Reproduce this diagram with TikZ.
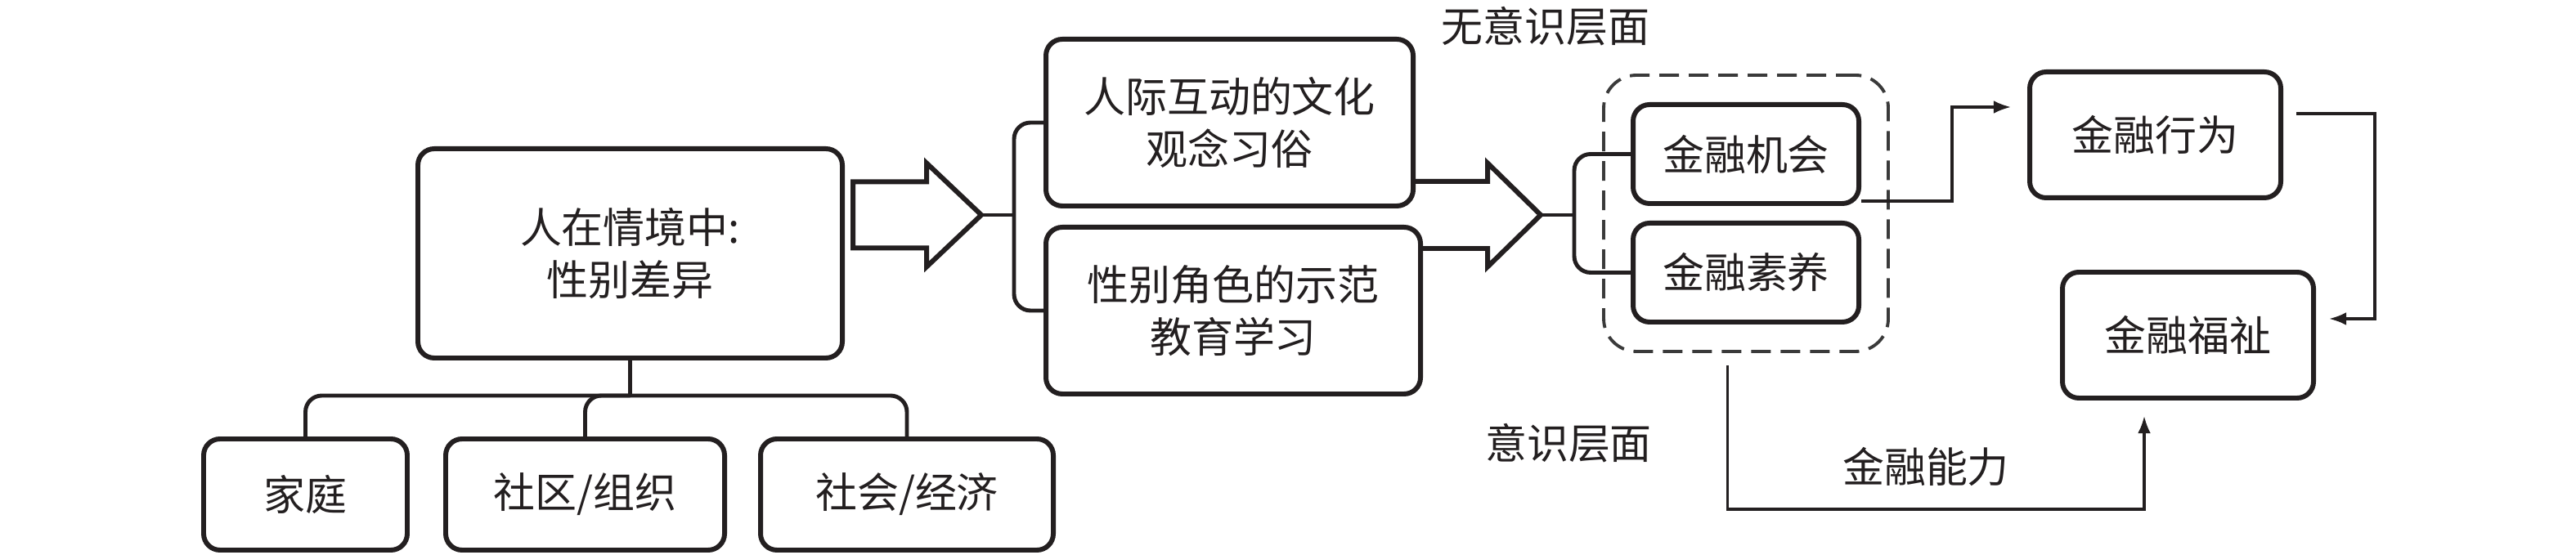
\documentclass[tikz,border=0pt]{standalone}
\usepackage{fontspec}
\newfontfamily\cjk{Noto Sans CJK SC}
\usepackage{tikz}
\usetikzlibrary{positioning,arrows.meta,fit}
\definecolor{ink}{HTML}{231F20}
\definecolor{dashc}{HTML}{3A3A3A}

\begin{document}
\begin{tikzpicture}[>=Latex,
    every node/.style={font=\cjk\fontsize{14.5}{18}\selectfont, text=ink},
    box/.style={draw=ink, line width=1.7pt, rounded corners=0.2cm, align=center, inner sep=0pt},
    link/.style={draw=ink, line width=1.4pt},
    hollow/.style={draw=ink, line width=1.7pt, miter limit=10},
    flow/.style={draw=ink, line width=0.9pt, -{Latex[length=6pt,width=4.5pt]}},
    grp/.style={draw=dashc, line width=1.1pt, dash pattern=on 0.24cm off 0.12cm, rounded corners=0.4cm}]
  \useasboundingbox (0,0) rectangle (31.5,6.79);
  % person in situation and its three levels
  \node[box, minimum width=5.19cm, minimum height=2.56cm] (ctx) at (7.705,3.69) {人在情境中:\\性别差异};
  \node[box, minimum width=2.49cm, minimum height=1.36cm] (fam) at (3.735,0.74) {家庭};
  \node[box, minimum width=3.41cm, minimum height=1.36cm] (comm) at (7.155,0.74) {社区/组织};
  \node[box, minimum width=3.58cm, minimum height=1.36cm] (soc) at (11.09,0.74) {社会/经济};
  \draw[link] (ctx.south) -- ++(0,-0.43) coordinate (hub);
  \draw[link, rounded corners=0.2cm] (fam.north) |- (hub) -| (soc.north);
  \draw[link, rounded corners=0.2cm] (comm.north) |- (hub);
  % first block arrow
  \coordinate (a1) at (10.43,4.16);
  \draw[hollow] (a1) ++(0,0.405) -- ++(0.9,0) -- ++(0,0.23) -- ++(0.67,-0.635) coordinate (t1)
    -- ++(-0.67,-0.635) -- ++(0,0.23) -- ++(-0.9,0) -- cycle;
  % two channels
  \node[box, minimum width=4.49cm, minimum height=2.04cm] (cult) at (15.035,5.29) {人际互动的文化\\观念习俗};
  \node[box, minimum width=4.58cm, minimum height=2.04cm] (role) at (15.08,2.99) {性别角色的示范\\教育学习};
  \coordinate (b1) at (12.40,4.16);
  \draw[link] (t1) -- (b1);
  \draw[link, rounded corners=0.2cm] (cult.west) -| (b1) |- (role.west);
  % second block arrow, open on the left
  \coordinate (a2t) at (18.19,4.57);
  \coordinate (a2b) at (18.19,3.75);
  \coordinate (t2) at (18.84,4.16);
  \draw[hollow] (cult.east |- a2t) -- (a2t) -- ++(0,0.225) -- (t2) -- (18.19,3.525) -- (a2b) -- (role.east |- a2b);
  % unconscious level
  \node[box, minimum width=2.76cm, minimum height=1.21cm] (opp) at (21.35,4.905) {金融机会};
  \node[box, minimum width=2.76cm, minimum height=1.21cm] (lit) at (21.35,3.455) {金融素养};
  \node[grp, fit=(opp)(lit), inner sep=0.33cm] (unc) {};
  \coordinate (b2) at (19.25,4.16);
  \draw[link] (t2) -- (b2);
  \draw[link, rounded corners=0.2cm] (opp.west) -| (b2) |- (lit.west);
  % behaviour and well-being
  \node[box, minimum width=3.07cm, minimum height=1.54cm] (beh) at (26.355,5.14) {金融行为};
  \node[box, minimum width=3.07cm, minimum height=1.54cm] (wel) at (26.755,2.69) {金融福祉};
  \draw[flow] ([yshift=0.06cm]opp.south east) -| ([xshift=-0.92cm,yshift=0.34cm]beh.west) -- ([xshift=-0.2cm,yshift=0.34cm]beh.west);
  \draw[flow] ([xshift=0.16cm,yshift=0.26cm]beh.east) -| ([xshift=0.72cm,yshift=0.2cm]wel.east) -- ([xshift=0.16cm,yshift=0.2cm]wel.east);
  \draw[flow] ([xshift=-0.225cm,yshift=-0.15cm]unc.south) |- ([xshift=-0.535cm,yshift=-1.33cm]wel.south) -- ([xshift=-0.535cm,yshift=-0.19cm]wel.south);
  % level labels
  \node (lblunc) at (18.90,6.47) {无意识层面};
  \node (lblcon) at (19.18,1.37) {意识层面};
  \node (lblcap) at (23.55,1.08) {金融能力};
\end{tikzpicture}
\end{document}
